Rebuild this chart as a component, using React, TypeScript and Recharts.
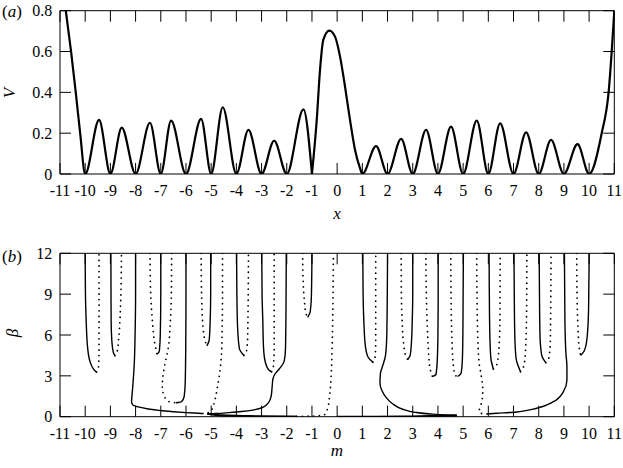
import { LineChart, Line, XAxis, YAxis, ReferenceLine } from 'recharts';

// shared tick values
const xTicks = [-11, -10, -9, -8, -7, -6, -5, -4, -3, -2, -1, 0, 1, 2, 3, 4, 5, 6, 7, 8, 9, 10, 11];
const vTicks = [0, 0.2, 0.4, 0.6, 0.8];
const betaTicks = [0, 3, 6, 9, 12];

// (a) potential V(x): zeros and peaks
const xs = [
  -10.77, -10.56, -10.37, -10.2, -10, -9.45, -9, -8.55, -8, -7.43, -7, -6.59, -6, -5.4, -5, -4.54, -4,
  -3.52, -3, -2.5, -2, -1.34, -1, -0.81, -0.68, -0.55, -0.31, -0.085, 0.115, 0.31, 0.51, 0.71, 0.91, 1,
  1.545, 2, 2.54, 3, 3.53, 4, 4.52, 5, 5.54, 6, 6.47, 7, 7.5, 8, 8.49, 9, 9.54, 10, 10.5, 10.77, 11,
];
const vs = [
  0.8, 0.6, 0.395, 0.2, 0, 0.265, 0, 0.227, 0, 0.251, 0, 0.261, 0, 0.27, 0, 0.327, 0,
  0.216, 0, 0.163, 0, 0.317, 0, 0.265, 0.51, 0.657, 0.702, 0.673, 0.575, 0.43, 0.265, 0.118, 0.028, 0,
  0.137, 0, 0.172, 0, 0.216, 0, 0.232, 0, 0.261, 0, 0.248, 0, 0.204, 0, 0.167, 0, 0.146, 0, 0.2, 0.395, 0.8,
];
const potential = xs.map((x, i) => ({ x, v: vs[i] }));
const splitAt = xs.indexOf(-1);
const potentialLeft = potential.slice(0, splitAt + 1);
const potentialRight = potential.slice(splitAt);

// (b) branches beta(m), [m, beta] pairs
const s1 = [[-10, 12], [-9.99, 9], [-9.96, 7], [-9.9, 5], [-9.8, 4], [-9.65, 3.45], [-9.55, 3.28]];
const d1 = [[-9.55, 3.28], [-9.47, 3.7], [-9.45, 5], [-9.45, 8], [-9.45, 12]];
const s2 = [[-8.98, 12], [-8.97, 7], [-8.94, 5.5], [-8.88, 4.7], [-8.82, 4.48]];
const d2 = [[-8.82, 4.48], [-8.74, 4.7], [-8.66, 6], [-8.6, 8], [-8.56, 12]];
const s3 = [
  [-8.0, 12], [-8.0, 9], [-8.02, 6], [-8.05, 4], [-8.1, 2.5], [-8.14, 1.6], [-8.16, 1.1], [-8.1, 0.85],
  [-7.9, 0.72], [-7.5, 0.57], [-7.0, 0.45], [-6.5, 0.36], [-6.0, 0.3], [-5.5, 0.25], [-5.3, 0.23],
];
const d3 = [[-7.43, 12], [-7.4, 9], [-7.33, 7], [-7.25, 5.5], [-7.15, 4.6]];
const s4 = [[-7.15, 4.6], [-7.06, 4.8], [-7.02, 6], [-7.0, 9], [-7.0, 12]];
const d4 = [
  [-6.57, 12], [-6.58, 9], [-6.62, 7], [-6.7, 5.1], [-6.83, 3.9], [-6.92, 2.9], [-6.94, 2.2], [-6.86, 1.5],
  [-6.68, 1.12], [-6.4, 1.02],
];
const s5 = [[-6.4, 1.02], [-6.18, 1.1], [-6.07, 1.5], [-6.03, 2.5], [-6.01, 5], [-6.0, 9], [-6.0, 12]];
const d5 = [[-5.4, 12], [-5.38, 9], [-5.34, 7], [-5.26, 5.7], [-5.17, 5.2]];
const s6 = [[-5.17, 5.2], [-5.08, 5.6], [-5.04, 7], [-5.02, 9], [-5.02, 12]];
const d6 = [
  [-4.55, 12], [-4.55, 9], [-4.56, 7], [-4.58, 5], [-4.65, 3.4], [-4.75, 2.2], [-4.87, 1.1], [-4.98, 0.5],
  [-5.1, 0.3], [-5.25, 0.24],
];
const s7 = [[-3.99, 12], [-3.98, 9], [-3.95, 6.5], [-3.88, 5], [-3.7, 4.5]];
const d7 = [[-3.7, 4.5], [-3.6, 4.8], [-3.55, 6], [-3.52, 12]];
const s8 = [[-2.99, 12], [-2.98, 9], [-2.95, 7], [-2.92, 5], [-2.85, 4], [-2.72, 3.45], [-2.6, 3.3]];
const d8 = [[-2.6, 3.3], [-2.53, 3.7], [-2.5, 5], [-2.5, 12]];
const s9 = [
  [-2.02, 12], [-2.03, 8], [-2.05, 5], [-2.1, 4.1], [-2.3, 3.5], [-2.48, 3.1], [-2.55, 2.75], [-2.58, 2.2],
  [-2.62, 1.5], [-2.72, 1.05], [-2.95, 0.68], [-3.3, 0.5], [-3.8, 0.38], [-4.3, 0.3], [-4.8, 0.23], [-5.15, 0.2],
];
const d9 = [[-1.37, 12], [-1.35, 10], [-1.3, 8.5], [-1.24, 7.6], [-1.17, 7.3]];
const s10 = [[-1.17, 7.3], [-1.07, 7.7], [-1.02, 9], [-1.0, 12]];
const d10 = [
  [-1.6, 0.02], [-1.2, 0.03], [-0.8, 0.06], [-0.5, 0.15], [-0.38, 0.6], [-0.3, 1.5], [-0.24, 3], [-0.2, 5],
  [-0.17, 8], [-0.15, 12],
];
const s11 = [[1.02, 12], [1.03, 9], [1.06, 7], [1.12, 5.2], [1.22, 4.4], [1.42, 4.0]];
const d11 = [[1.42, 4.0], [1.5, 4.3], [1.53, 5.5], [1.53, 12]];
const s12 = [
  [2.0, 12], [1.99, 9], [1.97, 6], [1.92, 4.5], [1.8, 3.7], [1.72, 3.2], [1.7, 2.5], [1.78, 1.9], [1.95, 1.4],
  [2.2, 0.95], [2.6, 0.55], [3.1, 0.32], [3.7, 0.2], [4.3, 0.13], [4.75, 0.1],
];
const d12 = [[2.54, 12], [2.55, 9], [2.58, 7], [2.63, 5.5], [2.72, 4.5], [2.8, 4.2]];
const s13 = [[2.8, 4.2], [2.9, 4.5], [2.95, 5.5], [2.98, 7], [3.0, 9], [3.0, 12]];
const d13 = [[3.52, 12], [3.54, 9], [3.57, 7], [3.62, 5], [3.68, 3.6], [3.78, 2.95]];
const s14 = [[3.78, 2.95], [3.92, 3.1], [3.97, 4], [4.0, 6], [4.01, 9], [4.01, 12]];
const d14 = [[4.51, 12], [4.52, 9], [4.55, 6], [4.6, 4], [4.68, 3.05], [4.78, 2.95]];
const s15 = [[4.78, 2.95], [4.92, 3.2], [4.97, 4.2], [4.99, 6], [5.0, 9], [5.01, 12]];
const d15 = [
  [5.54, 12], [5.55, 9], [5.58, 6], [5.63, 4], [5.72, 3], [5.78, 2], [5.76, 1.3], [5.68, 0.7], [5.63, 0.4],
  [5.7, 0.25], [5.85, 0.2],
];
const s16 = [
  [5.92, 0.2], [6.33, 0.25], [7.13, 0.35], [7.92, 0.62], [8.58, 1.1], [8.98, 1.84], [9.12, 2.7], [9.12, 3.67],
  [9.08, 4.66], [9.04, 7], [9.02, 12],
];
const s17 = [[6.03, 12], [6.04, 9], [6.06, 6], [6.1, 4.3], [6.2, 3.5]];
const d17 = [[6.2, 3.5], [6.35, 3.9], [6.42, 5], [6.46, 7], [6.47, 12]];
const s18 = [[7.02, 12], [7.03, 9], [7.05, 6], [7.1, 4.3], [7.28, 3.3]];
const d18 = [[7.28, 3.3], [7.42, 3.8], [7.48, 5], [7.52, 8], [7.53, 12]];
const s19 = [[8.02, 12], [8.03, 9], [8.05, 6], [8.12, 4.5], [8.28, 3.97]];
const d19 = [[8.28, 3.97], [8.4, 4.3], [8.46, 5.5], [8.49, 12]];
const d20 = [[9.51, 12], [9.52, 9], [9.55, 7], [9.6, 5.2], [9.66, 4.5]];
const s20 = [[9.66, 4.5], [9.8, 4.8], [9.92, 5.8], [9.98, 8], [10.0, 12]];

// near-axis branches (drawn as functions of m)
const w1 = [[-5.15, 0.2], [-4.5, 0.12], [-3.5, 0.07], [-2.5, 0.04], [-1.6, 0.02]];
const w2 = [[-5.15, 0.2], [-4.5, 0.05], [-3.5, 0.02], [-2.5, 0.01], [-1.6, 0.01]];
const w3 = [[0, 0.01], [1.5, 0.02], [3, 0.04], [4.75, 0.12]];
const w4 = [[0, 0.0], [2, 0.005], [3.5, 0.01], [4.75, 0.03]];

const solidBranches = [s1, s2, s3, s4, s5, s6, s7, s8, s9, s10, s11, s12, s13, s14, s15, s16, s17, s18, s19, s20];
const dottedBranches = [d1, d2, d3, d4, d5, d6, d7, d8, d9, d10, d11, d12, d13, d14, d15, d17, d18, d19, d20];
const flatBranches = [w1, w2, w3, w4];

const toPts = (arr: number[][]) => arr.map(([m, b]) => ({ m, b }));

const serif = 'Liberation Serif';
const tickStyle = { fill: '#000', fontSize: 16, fontFamily: serif };
const axisColor = { stroke: '#000', strokeWidth: 1 };

// inward tick marks (about 11px) on all four sides, as reference segments in data units
function tickSegments(yTicks: number[], yMax: number, lenX: number, lenY: number) {
  const segs: { x: number; y: number }[][] = [];
  xTicks.forEach((t) => {
    segs.push([{ x: t, y: 0 }, { x: t, y: lenY }]);
    segs.push([{ x: t, y: yMax }, { x: t, y: yMax - lenY }]);
  });
  yTicks.forEach((t) => {
    segs.push([{ x: -11, y: t }, { x: -11 + lenX, y: t }]);
    segs.push([{ x: 11, y: t }, { x: 11 - lenX, y: t }]);
  });
  return segs.map((segment, i) => (
    <ReferenceLine key={`tk${i}`} segment={segment} stroke="#000" strokeWidth={1} ifOverflow="visible" />
  ));
}

const axisPair = (i: number) => (i % 2 === 0 ? { xAxisId: 0, yAxisId: 0 } : { xAxisId: 't', yAxisId: 'r' });

export default function App() {
  return (
    <div
      style={{
        position: 'absolute', left: 0, top: 0, width: 623, height: 468, background: '#fff',
        fontFamily: '"Liberation Serif"',
      }}
    >
      <div style={{ position: 'absolute', left: 0, top: 0 }}>
        <LineChart width={623} height={230} margin={{ top: 9.7, right: 7.7, bottom: 0, left: 0 }}>
          <XAxis
            dataKey="x" type="number" domain={[-11, 11]} ticks={xTicks} interval={0} allowDataOverflow
            height={56} tickSize={0} tickMargin={10.3} axisLine={axisColor} tickLine={false} tick={tickStyle}
          />
          <XAxis
            xAxisId="t" dataKey="x" orientation="top" type="number" domain={[-11, 11]} ticks={xTicks} interval={0}
            allowDataOverflow height={1} tick={false} tickLine={false} axisLine={axisColor}
          />
          <YAxis
            type="number" domain={[0, 0.8]} ticks={vTicks} interval={0} allowDataOverflow width={60}
            tickSize={0} tickMargin={7.7} axisLine={axisColor} tickLine={false} tick={tickStyle}
          />
          <YAxis
            yAxisId="r" orientation="right" type="number" domain={[0, 0.8]} ticks={vTicks} interval={0}
            allowDataOverflow width={1} tick={false} tickLine={false} axisLine={axisColor}
          />
          {tickSegments(vTicks, 0.8, 0.437, 0.054)}
          <Line
            data={potentialLeft} dataKey="v" type="monotone" stroke="#000" strokeWidth={2.2} dot={false}
            activeDot={false} isAnimationActive={false}
          />
          <Line
            data={potentialRight} xAxisId="t" yAxisId="r" dataKey="v" type="monotone" stroke="#000"
            strokeWidth={2.2} dot={false} activeDot={false} isAnimationActive={false}
          />
        </LineChart>
      </div>
      <div style={{ position: 'absolute', left: 0, top: 230 }}>
        <LineChart width={623} height={238} margin={{ top: 22.3, right: 7.7, bottom: 0, left: 0 }}>
          <XAxis
            dataKey="m" type="number" domain={[-11, 11]} ticks={xTicks} interval={0} allowDataOverflow
            height={51.3} tickSize={0} tickMargin={11} axisLine={axisColor} tickLine={false} tick={tickStyle}
          />
          <XAxis
            xAxisId="t" dataKey="m" orientation="top" type="number" domain={[-11, 11]} ticks={xTicks} interval={0}
            allowDataOverflow height={1} tick={false} tickLine={false} axisLine={axisColor}
          />
          <YAxis
            type="number" domain={[0, 12]} ticks={betaTicks} interval={0} allowDataOverflow width={60}
            tickSize={0} tickMargin={7.7} axisLine={axisColor} tickLine={false} tick={tickStyle}
          />
          <YAxis
            yAxisId="r" orientation="right" type="number" domain={[0, 12]} ticks={betaTicks} interval={0}
            allowDataOverflow width={1} tick={false} tickLine={false} axisLine={axisColor}
          />
          {tickSegments(betaTicks, 12, 0.437, 0.81)}
          {solidBranches.map((br, i) => (
            <Line
              key={`s${i}`} {...axisPair(i)} data={toPts(br)} dataKey="b" type="monotoneY" stroke="#000"
              strokeWidth={1.4} dot={false} activeDot={false} isAnimationActive={false}
            />
          ))}
          {flatBranches.map((br, i) => (
            <Line
              key={`w${i}`} {...axisPair(i)} data={toPts(br)} dataKey="b" type="monotone" stroke="#000"
              strokeWidth={1.4} dot={false} activeDot={false} isAnimationActive={false}
            />
          ))}
          {dottedBranches.map((br, i) => (
            <Line
              key={`d${i}`} {...axisPair(i)} data={toPts(br)} dataKey="b" type="monotoneY" stroke="#000"
              strokeWidth={1.8} strokeDasharray="0 5.6" strokeLinecap="round" dot={false} activeDot={false}
              isAnimationActive={false}
            />
          ))}
        </LineChart>
      </div>
      <svg
        width={623} height={468}
        style={{ position: 'absolute', left: 0, top: 0, pointerEvents: 'none' }}
      >
        <text x={2} y={17} fontFamily={serif} fontSize={17}>(<tspan fontStyle="italic">a</tspan>)</text>
        <text x={2} y={262} fontFamily={serif} fontSize={17}>(<tspan fontStyle="italic">b</tspan>)</text>
        <text transform="translate(15,93) rotate(-90)" textAnchor="middle" fontFamily={serif} fontSize={17} fontStyle="italic">V</text>
        <text transform="translate(18,333) rotate(-90)" textAnchor="middle" fontFamily={serif} fontSize={17} fontStyle="italic">β</text>
        <text x={337} y={219} textAnchor="middle" fontFamily={serif} fontSize={17} fontStyle="italic">x</text>
        <text x={337} y={456} textAnchor="middle" fontFamily={serif} fontSize={17} fontStyle="italic">m</text>
      </svg>
    </div>
  );
}
